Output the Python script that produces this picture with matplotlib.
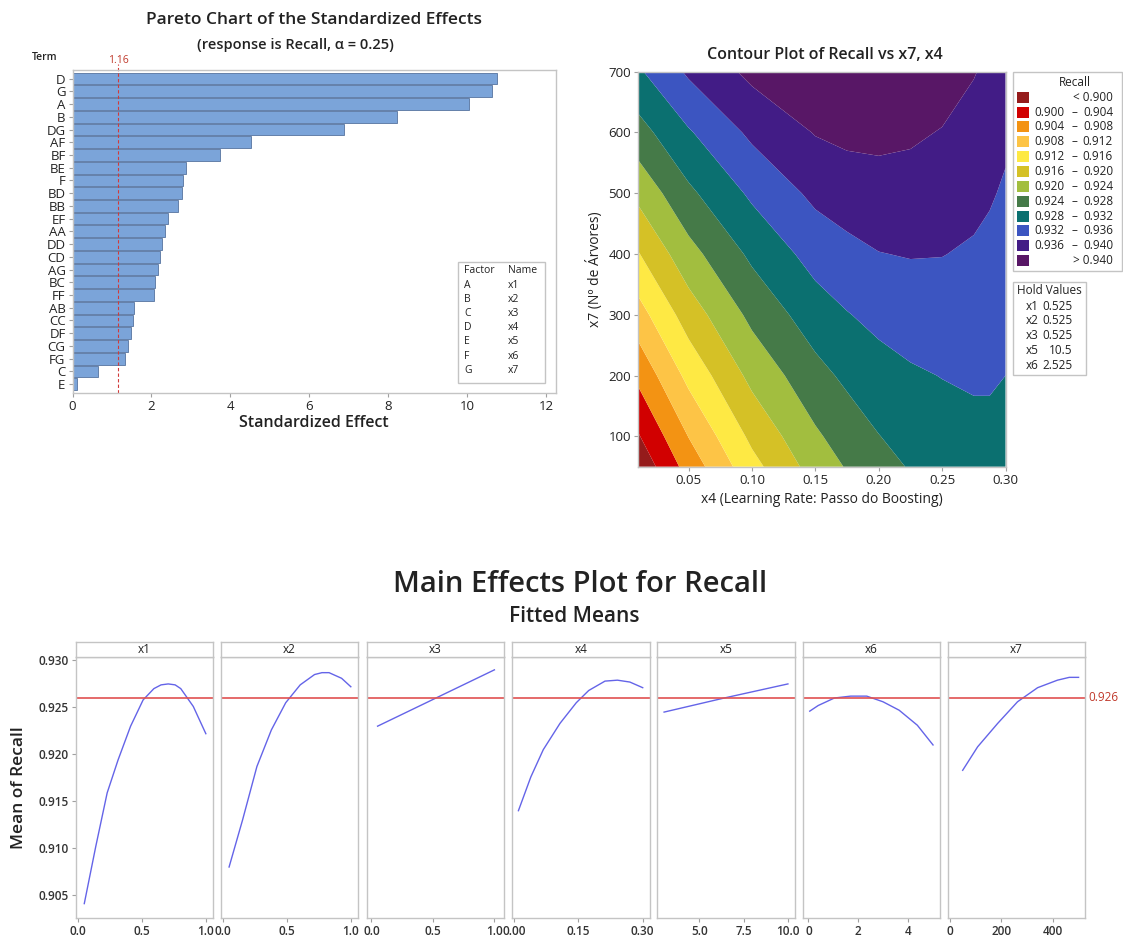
import numpy as np
import matplotlib.pyplot as plt
from matplotlib.patches import Rectangle

plt.rcParams['font.family'] = ['Open Sans', 'DejaVu Sans']

W, H = 1123, 938

# ── Pareto data ──
terms = ["D", "G", "A", "B", "DG", "AF", "BF", "BE", "F", "BD", "BB", "EF", "AA",
         "DD", "CD", "AG", "BC", "FF", "AB", "CC", "DF", "CG", "FG", "C", "E"]
effects = [10.75, 10.63, 10.05, 8.22, 6.88, 4.51, 3.73, 2.87, 2.81, 2.78, 2.67, 2.41, 2.35,
           2.27, 2.22, 2.16, 2.08, 2.06, 1.56, 1.53, 1.47, 1.40, 1.34, 0.64, 0.12]
critical = 1.16
factor_codes = ["A", "B", "C", "D", "E", "F", "G"]
factor_names = ["x1", "x2", "x3", "x4", "x5", "x6", "x7"]

# ── Contour data (Recall on a grid) ──
x4_grid = [0.01, 0.05, 0.10, 0.15, 0.175, 0.20, 0.225, 0.25, 0.275, 0.2875, 0.30]
x7_grid = [50, 100, 200, 300, 400, 500, 600, 700]
recall_grid = [
    [0.8969, 0.9056, 0.9147, 0.9217, 0.9243, 0.9265, 0.9283, 0.9296, 0.9306, 0.9310, 0.9313],
    [0.8996, 0.9081, 0.9169, 0.9234, 0.9258, 0.9279, 0.9294, 0.9304, 0.9312, 0.9314, 0.9315],
    [0.9049, 0.9131, 0.9211, 0.9267, 0.9288, 0.9304, 0.9315, 0.9321, 0.9324, 0.9323, 0.9320],
    [0.9103, 0.9179, 0.9250, 0.9301, 0.9318, 0.9331, 0.9338, 0.9341, 0.9340, 0.9336, 0.9331],
    [0.9157, 0.9226, 0.9288, 0.9335, 0.9349, 0.9359, 0.9362, 0.9361, 0.9355, 0.9350, 0.9343],
    [0.9210, 0.9272, 0.9327, 0.9369, 0.9379, 0.9384, 0.9384, 0.9380, 0.9371, 0.9364, 0.9355],
    [0.9264, 0.9316, 0.9368, 0.9402, 0.9409, 0.9410, 0.9406, 0.9398, 0.9386, 0.9378, 0.9367],
    [0.9314, 0.9366, 0.9410, 0.9435, 0.9439, 0.9438, 0.9431, 0.9420, 0.9402, 0.9392, 0.9380],
]
levels = [0.880, 0.900, 0.904, 0.908, 0.912, 0.916, 0.920, 0.924, 0.928, 0.932, 0.936, 0.940, 0.960]
band_colors = ["#951b1b", "#d10000", "#f39313", "#fdc446", "#fee944", "#d5c126",
               "#a2be3f", "#457a48", "#0b7070", "#3c55c1", "#421c86", "#581766"]
band_labels = [("", "< 0.900"), ("0.900", "0.904"), ("0.904", "0.908"), ("0.908", "0.912"),
               ("0.912", "0.916"), ("0.916", "0.920"), ("0.920", "0.924"), ("0.924", "0.928"),
               ("0.928", "0.932"), ("0.932", "0.936"), ("0.936", "0.940"), ("", "> 0.940")]
hold_names = ["x1", "x2", "x3", "x5", "x6"]
hold_values = ["0.525", "0.525", "0.525", "10.5", "2.525"]

# ── Main effects data (fitted means) ──
x1_vals = [0.05, 0.140, 0.229, 0.314, 0.412, 0.510, 0.594, 0.650, 0.706, 0.760, 0.804, 0.902, 1.0]
x1_mean = [0.9041, 0.9102, 0.9159, 0.9194, 0.9230, 0.9258, 0.9270, 0.9274, 0.9275, 0.9274,
           0.9270, 0.9251, 0.9222]
x2_vals = [0.05, 0.155, 0.267, 0.380, 0.492, 0.605, 0.717, 0.775, 0.830, 0.928, 1.0]
x2_mean = [0.9080, 0.9130, 0.9187, 0.9226, 0.9255, 0.9274, 0.9285, 0.9287, 0.9287, 0.9281, 0.9272]
x3_vals = [0.05, 0.525, 1.0]
x3_mean = [0.9230, 0.9260, 0.9290]
x4_vals = [0.01, 0.039, 0.068, 0.107, 0.145, 0.174, 0.212, 0.241, 0.270, 0.30]
x4_mean = [0.9140, 0.9176, 0.9205, 0.9233, 0.9255, 0.9268, 0.9278, 0.9279, 0.9277, 0.9271]
x5_vals = [3.0, 6.4, 10.0]
x5_mean = [0.9245, 0.9260, 0.9275]
x6_vals = [0.05, 0.39, 1.04, 1.69, 2.34, 2.99, 3.64, 4.37, 5.0]
x6_mean = [0.9246, 0.9252, 0.9260, 0.9262, 0.9262, 0.9256, 0.9247, 0.9231, 0.9210]
x7_vals = [50, 108, 186, 263, 341, 418, 464, 500]
x7_mean = [0.9183, 0.9208, 0.9233, 0.9256, 0.9271, 0.9279, 0.9282, 0.9282]
overall_mean = 0.926
me_yticks = [0.905, 0.910, 0.915, 0.920, 0.925, 0.930]
me_xticks = [[0, 0.5, 1.0], [0, 0.5, 1.0], [0, 0.5, 1.0], [0, 0.15, 0.30],
             [5, 7.5, 10], [0, 2, 4], [0, 200, 400]]
me_xticklabels = [["0.0", "0.5", "1.0"], ["0.0", "0.5", "1.0"], ["0.0", "0.5", "1.0"],
                  ["0.00", "0.15", "0.30"], ["5.0", "7.5", "10.0"], ["0", "2", "4"],
                  ["0", "200", "400"]]

TXT = "#222222"
FRAME = "#c4c4c4"

fig = plt.figure(figsize=(W / 100, H / 100), dpi=100)


def add_ax(x0, y0, x1, y1):
    return fig.add_axes([x0 / W, 1 - y1 / H, (x1 - x0) / W, (y1 - y0) / H])


def ftext(px, py, s, **kw):
    kw.setdefault("color", TXT)
    fig.text(px / W, 1 - py / H, s, **kw)


def fbox(x0, y0, x1, y1, **kw):
    fig.add_artist(Rectangle((x0 / W, 1 - y1 / H), (x1 - x0) / W, (y1 - y0) / H,
                             transform=fig.transFigure, **kw))


def frame(ax):
    for s in ax.spines.values():
        s.set_color(FRAME)
        s.set_linewidth(1.0)


# ── 1. Pareto chart ──
ax = add_ax(72.5, 70, 556, 392.7)
ypos = np.arange(len(terms))
ax.barh(ypos, effects, height=0.92, color="#7ba4d9", edgecolor="#56739f", linewidth=0.6)
ax.set_ylim(24.675, -0.675)
ax.set_xlim(0, 12.25)
ax.set_yticks(ypos)
ax.set_yticklabels(terms)
ax.set_xticks(range(0, 13, 2))
ax.tick_params(axis="both", length=3, color="#a0a0a0", labelsize=9.5, labelcolor=TXT, pad=2)
ax.axvline(critical, ymin=0, ymax=1.02, color="#d23a3a", ls=(0, (3, 2)), lw=0.8, clip_on=False)
frame(ax)
ax.set_xlabel("Standardized Effect", fontsize=11.5, fontweight="semibold", color=TXT, labelpad=2)

ftext(314, 20, "Pareto Chart of the Standardized Effects", fontsize=12.5,
      fontweight="semibold", ha="center", va="center")
ftext(295, 45, "(response is Recall, \u03b1 = 0.25)", fontsize=10.5,
      fontweight="semibold", ha="center", va="center")
ftext(45, 57, "Term", fontsize=7.5, fontweight="semibold", ha="center", va="center")
ftext(118, 60, "1.16", fontsize=7.5, color="#c0392b", ha="center", va="center")

# factor table
fbox(458, 262, 545, 383, fill=False, ec=FRAME, lw=1.0)
ftext(464, 270, "Factor", fontsize=7.5, va="center")
ftext(508, 270, "Name", fontsize=7.5, va="center")
for i, (c, n) in enumerate(zip(factor_codes, factor_names)):
    ftext(464, 285 + i * 14.2, c, fontsize=7.5, va="center")
    ftext(508, 285 + i * 14.2, n, fontsize=7.5, va="center")

# ── 2. Contour plot ──
axc = add_ax(637.8, 71.7, 1005.5, 466.7)
X, Y = np.meshgrid(x4_grid, x7_grid)
axc.contourf(X, Y, np.array(recall_grid), levels=levels, colors=band_colors, antialiased=True)
axc.set_xlim(0.01, 0.30)
axc.set_ylim(50, 700)
axc.set_xticks([0.05, 0.10, 0.15, 0.20, 0.25, 0.30])
axc.set_yticks([100, 200, 300, 400, 500, 600, 700])
axc.tick_params(axis="both", length=3, color="#a0a0a0", labelsize=9.5, labelcolor=TXT, pad=2)
frame(axc)
axc.set_xlabel("x4 (Learning Rate: Passo do Boosting)", fontsize=10, color=TXT, labelpad=4)
axc.set_ylabel("x7 (Nº de Árvores)", fontsize=10, color=TXT, labelpad=4)
ftext(825, 55, "Contour Plot of Recall vs x7, x4", fontsize=11.5, fontweight="semibold",
      ha="center", va="center")

# legend for the bands
fbox(1013, 71.7, 1122, 271, fill=False, ec=FRAME, lw=1.0)
ftext(1074.5, 82, "Recall", fontsize=8.5, ha="center", va="center")
for i, (lo, hi) in enumerate(band_labels):
    yy = 97.3 + i * 14.85
    fbox(1017, yy - 5.5, 1029, yy + 5.5, fc=band_colors[i], ec="none")
    if lo:
        ftext(1064.5, yy, lo, fontsize=8.5, ha="right", va="center")
        ftext(1074.5, yy, "\u2013", fontsize=8.5, ha="center", va="center")
    ftext(1113, yy, hi, fontsize=8.5, ha="right", va="center")

fbox(1013, 282, 1086, 375, fill=False, ec=FRAME, lw=1.0)
ftext(1049.5, 291, "Hold Values", fontsize=8.5, ha="center", va="center")
for i, (n, v) in enumerate(zip(hold_names, hold_values)):
    yy = 306 + i * 14.8
    ftext(1026, yy, n, fontsize=8.5, va="center")
    ftext(1072.5, yy, v, fontsize=8.5, ha="right", va="center")

# ── 3. Main effects plot ──
ftext(580, 585, "Main Effects Plot for Recall", fontsize=21, fontweight="semibold",
      ha="center", va="center")
ftext(574, 616, "Fitted Means", fontsize=15, fontweight="semibold", ha="center", va="center")

panel_px = [(75.7, 213), (220.5, 358), (367, 504), (512, 650), (657, 795), (803, 940), (948, 1085)]
panel_xlim = [(-0.017, 1.056), (-0.017, 1.056), (-0.036, 1.078), (-0.005, 0.317),
              (2.6, 10.4), (-0.22, 5.28), (-7, 525)]
me_x = [x1_vals, x2_vals, x3_vals, x4_vals, x5_vals, x6_vals, x7_vals]
me_y = [x1_mean, x2_mean, x3_mean, x4_mean, x5_mean, x6_mean, x7_mean]

for i, (x0, x1) in enumerate(panel_px):
    axm = add_ax(x0, 656.7, x1, 917.7)
    axm.plot(me_x[i], me_y[i], color="#6464e8", lw=1.0)
    axm.axhline(overall_mean, color="#e05050", lw=1.2)
    axm.set_xlim(*panel_xlim[i])
    axm.set_ylim(0.9026, 0.9304)
    axm.set_xticks(me_xticks[i])
    axm.set_xticklabels(me_xticklabels[i])
    axm.set_yticks(me_yticks)
    if i == 0:
        axm.set_yticklabels([f"{v:.3f}" for v in me_yticks])
        axm.set_ylabel("Mean of Recall", fontsize=12.5, fontweight="semibold", color=TXT,
                       labelpad=8)
    else:
        axm.tick_params(axis="y", left=False, labelleft=False)
    axm.tick_params(axis="both", length=3, color="#a0a0a0", labelsize=8.5,
                    labelcolor="#333333", pad=2)
    for lbl in axm.get_xticklabels() + axm.get_yticklabels():
        lbl.set_fontweight("semibold")
    frame(axm)

    strip = add_ax(x0, 641.7, x1, 656.7)
    strip.set_xticks([])
    strip.set_yticks([])
    frame(strip)
    strip.text(0.5, 0.5, factor_names[i], transform=strip.transAxes, ha="center",
               va="center", fontsize=8.5, color=TXT)

ftext(1088, 697.7, "0.926", fontsize=8.5, color="#c0392b", va="center")

fig.savefig("out.png", dpi=100)
